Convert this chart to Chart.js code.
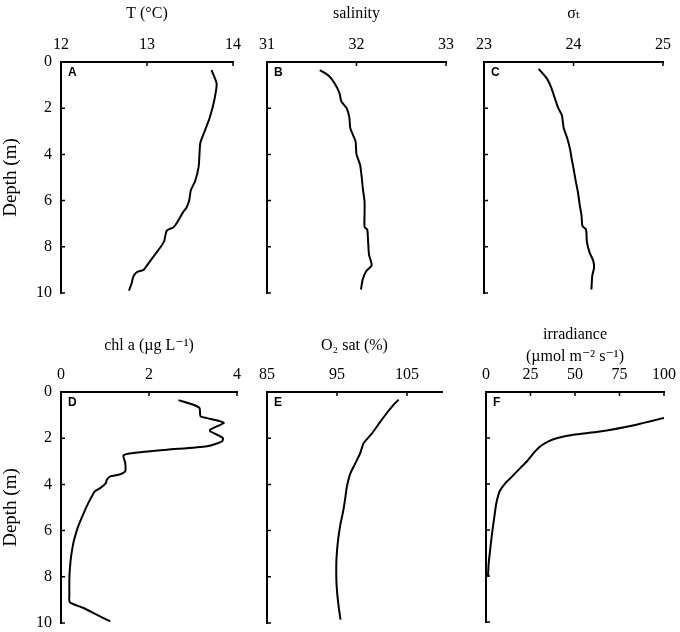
<!DOCTYPE html>
<html>
<head>
<meta charset="utf-8">
<script src="https://cdn.jsdelivr.net/npm/chart.js@4.4.1/dist/chart.umd.min.js"></script>
<style>
  body { margin: 0; background: #fff; }
  #wrap { position: relative; width: 680px; height: 632px; overflow: hidden; }
  #wrap canvas { position: absolute; }
</style>
</head>
<body>
<div id="wrap"></div>
<script>
// --- data ---
const depthTicks = [0, 2, 4, 6, 8, 10];

// A: temperature
const tempTicks = [12, 13, 14];
const tempDepth = [0.35, 0.95, 1.7, 2.4, 3.0, 3.5, 4.0, 4.55, 5.15, 5.55, 6.0, 6.3, 6.5, 6.95, 7.15, 7.3, 7.75, 8.0, 8.3, 8.5, 8.8, 9.0, 9.1, 9.3, 9.6, 9.9];
const tempValues = [13.75, 13.81, 13.78, 13.73, 13.67, 13.62, 13.61, 13.60, 13.56, 13.51, 13.49, 13.46, 13.42, 13.35, 13.31, 13.23, 13.20, 13.16, 13.10, 13.06, 13.00, 12.96, 12.88, 12.84, 12.82, 12.79];

// B: salinity
const salTicks = [31, 32, 33];
const salDepth = [0.35, 0.6, 0.95, 1.35, 1.7, 2.0, 2.4, 2.85, 3.15, 3.45, 4.0, 4.45, 5.05, 5.45, 6.05, 6.6, 7.15, 7.25, 7.8, 8.35, 8.8, 9.05, 9.4, 9.85];
const salValues = [31.59, 31.69, 31.76, 31.81, 31.83, 31.89, 31.92, 31.93, 31.96, 31.99, 32.00, 32.04, 32.06, 32.07, 32.09, 32.09, 32.09, 32.12, 32.13, 32.14, 32.17, 32.11, 32.07, 32.05];

// C: sigma-t
const sigmaTicks = [23, 24, 25];
const sigmaDepth = [0.3, 0.7, 1.1, 1.55, 2.0, 2.3, 2.85, 3.3, 3.75, 4.2, 4.6, 5.05, 5.65, 6.2, 6.65, 7.1, 7.25, 7.8, 8.25, 8.6, 8.9, 9.25, 9.85];
const sigmaValues = [23.61, 23.70, 23.75, 23.79, 23.83, 23.87, 23.89, 23.93, 23.96, 23.98, 24.00, 24.02, 24.05, 24.07, 24.09, 24.10, 24.14, 24.15, 24.18, 24.22, 24.23, 24.21, 24.20];

// D: chlorophyll a
const chlTicks = [0, 2, 4];
const chlDepth = [0.35, 0.55, 0.7, 1.05, 1.13, 1.27, 1.34, 1.63, 1.7, 1.99, 2.14, 2.35, 2.5, 2.64, 2.74, 3.07, 3.43, 3.58, 3.65, 3.8, 3.94, 4.16, 4.3, 4.52, 4.81, 5.09, 5.45, 5.82, 6.25, 6.54, 7.11, 7.69, 8.12, 8.7, 9.1, 9.35, 9.64, 9.93];
const chlValues = [2.67, 3.01, 3.15, 3.17, 3.32, 3.62, 3.70, 3.39, 3.39, 3.68, 3.66, 3.32, 2.41, 1.65, 1.42, 1.46, 1.46, 1.31, 1.12, 1.04, 1.02, 0.89, 0.77, 0.70, 0.62, 0.55, 0.47, 0.39, 0.32, 0.28, 0.23, 0.20, 0.19, 0.19, 0.20, 0.51, 0.81, 1.12];

// E: O2 saturation
const o2Ticks = [85, 95, 105];
const o2Depth = [0.33, 0.55, 0.92, 1.28, 1.79, 2.22, 2.66, 3.1, 3.53, 4.11, 4.55, 5.13, 5.71, 6.29, 6.88, 7.46, 8.04, 8.62, 9.2, 9.85];
const o2Values = [103.8, 103.1, 102.1, 101.2, 100.0, 98.8, 98.3, 97.6, 96.9, 96.4, 96.2, 95.9, 95.5, 95.2, 95.0, 94.9, 94.9, 95.0, 95.2, 95.5];

// F: irradiance
const irrTicks = [0, 25, 50, 75, 100];
const irrDepth = [1.13, 1.42, 1.72, 1.86, 2.01, 2.15, 2.37, 2.66, 3.02, 3.31, 3.68, 3.97, 4.33, 4.84, 5.42, 6.15, 7.02, 7.46, 8.04];
const irrValues = [100, 84.5, 64.0, 49.1, 39.7, 35.1, 30.4, 26.7, 22.9, 19.2, 14.6, 10.8, 7.6, 5.8, 4.7, 3.4, 2.1, 1.5, 1.1];

// --- panels: plot box in page pixels [left, top, right, bottom] ---
const panels = [
    { letter: "A", title: "T (°C)", ticks: tempTicks, max: 14, depth: tempDepth, values: tempValues, box: [61, 62, 233, 293], depthLabels: true, titlePad: 4 },
    { letter: "B", title: "salinity", ticks: salTicks, max: 33, depth: salDepth, values: salValues, box: [267, 62, 446, 293], titlePad: 4 },
    { letter: "C", title: "σₜ", ticks: sigmaTicks, max: 25, depth: sigmaDepth, values: sigmaValues, box: [484, 62, 663, 293], titlePad: 4 },
    { letter: "D", title: "chl a (µg L⁻¹)", ticks: chlTicks, max: 4, depth: chlDepth, values: chlValues, box: [61, 392, 237, 623], depthLabels: true, titlePad: 24 },
    { letter: "E", title: "O₂ sat (%)", ticks: o2Ticks, max: 110, depth: o2Depth, values: o2Values, box: [267, 392, 442, 623], titlePad: 24 },
    { letter: "F", title: ["irradiance", "(µmol m⁻² s⁻¹)"], ticks: irrTicks, max: 100, depth: irrDepth, values: irrValues, box: [486, 392, 664, 622], titlePad: 12, lineHeight: 1.35 },
];

Chart.defaults.font.family = '"Liberation Serif", "Times New Roman", "DejaVu Serif", serif';
Chart.defaults.font.size = 16;
Chart.defaults.color = "#000";

// inward tick marks + panel letter
const innerTicks = {
    id: "innerTicks",
    afterDatasetsDraw(chart, args, opts) {
        const { ctx, chartArea, scales } = chart;
        ctx.save();
        ctx.strokeStyle = "#000";
        ctx.lineWidth = 1.5;
        ctx.beginPath();
        scales.x.ticks.forEach(t => {
            const px = scales.x.getPixelForValue(t.value);
            ctx.moveTo(px, chartArea.top);
            ctx.lineTo(px, chartArea.top + 4);
        });
        scales.y.ticks.forEach(t => {
            const py = scales.y.getPixelForValue(t.value);
            ctx.moveTo(chartArea.left, py);
            ctx.lineTo(chartArea.left + 4, py);
        });
        ctx.stroke();
        ctx.fillStyle = "#000";
        ctx.font = 'bold 12px "Liberation Sans", Arial, sans-serif';
        ctx.textBaseline = "top";
        ctx.fillText(opts.letter, chartArea.left + 7, chartArea.top + 5);
        ctx.restore();
    }
};

const wrap = document.getElementById("wrap");
const padR = 24, padB = 24;   // room for labels hanging past the plot

panels.forEach(p => {
    const [left, top, right, bottom] = p.box;
    const yW = p.depthLabels ? 61 : 24;
    const xH = top < 200 ? 62 : 80;

    const canvas = document.createElement("canvas");
    const w = right - left + yW + padR;
    const h = bottom - top + xH + padB;
    canvas.width = w;
    canvas.height = h;
    canvas.style.left = (left - yW) + "px";
    canvas.style.top = (top - xH) + "px";
    canvas.style.width = w + "px";
    canvas.style.height = h + "px";
    wrap.appendChild(canvas);

    new Chart(canvas, {
        type: "scatter",
        data: {
            datasets: [{
                data: p.depth.map((d, i) => ({ x: p.values[i], y: d })),
                showLine: true,
                borderColor: "#000",
                borderWidth: 2,
                pointRadius: 0,
                tension: 0.2
            }]
        },
        options: {
            responsive: false,
            animation: false,
            layout: { padding: { left: 0, top: 0, right: padR, bottom: padB } },
            plugins: {
                legend: { display: false },
                tooltip: { enabled: false },
                innerTicks: { letter: p.letter }
            },
            scales: {
                x: {
                    type: "linear",
                    position: "top",
                    min: p.ticks[0],
                    max: p.max,
                    afterBuildTicks: s => { s.ticks = p.ticks.map(v => ({ value: v })); },
                    afterFit: s => { s.height = xH; },
                    grid: { display: false, drawTicks: false },
                    border: { display: true, color: "#000", width: 2 },
                    ticks: { padding: 8, maxRotation: 0, autoSkip: false, callback: v => v },
                    title: {
                        display: true,
                        text: p.title,
                        padding: { top: p.titlePad, bottom: 0 },
                        font: { size: 16, lineHeight: p.lineHeight || 1.2 }
                    }
                },
                y: {
                    type: "linear",
                    reverse: true,
                    min: 0,
                    max: 10,
                    afterBuildTicks: s => { s.ticks = depthTicks.map(v => ({ value: v })); },
                    afterFit: s => { s.width = yW; },
                    grid: { display: false, drawTicks: false },
                    border: { display: true, color: "#000", width: 2 },
                    ticks: { display: !!p.depthLabels, padding: 9, autoSkip: false, callback: v => v },
                    title: {
                        display: !!p.depthLabels,
                        text: "Depth (m)",
                        padding: 0,
                        font: { size: 19 }
                    }
                }
            }
        },
        plugins: [innerTicks]
    });
});
</script>
</body>
</html>
